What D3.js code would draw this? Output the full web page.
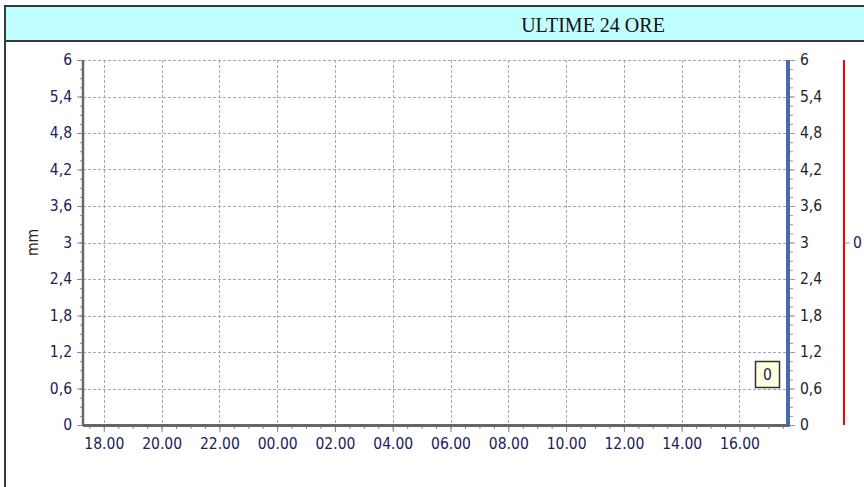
<!DOCTYPE html>
<head>
<meta charset="utf-8">
<title>Ultime 24 ore</title>
<style>
body { margin: 0; background: #fff; }
svg { display: block; }
.lbl { font-family: "DejaVu Sans Condensed", "DejaVu Sans", sans-serif; font-size: 15.5px; }
.grid line { stroke: #a8a8a8; stroke-dasharray: 3,2; shape-rendering: crispEdges; }
</style>
<script src="https://cdn.jsdelivr.net/npm/d3@7"></script>
</head>
<body>
<script>
// hours counted from midnight of the first day (24+ = next day)
var title = "ULTIME 24 ORE";
var yLabel = "mm";
var yTicks = [0, 0.6, 1.2, 1.8, 2.4, 3, 3.6, 4.2, 4.8, 5.4, 6];
var yTickLabels = ["0", "0,6", "1,2", "1,8", "2,4", "3", "3,6", "4,2", "4,8", "5,4", "6"];
var xTicks = [18, 20, 22, 24, 26, 28, 30, 32, 34, 36, 38, 40];
var xTickLabels = ["18.00", "20.00", "22.00", "00.00", "02.00", "04.00", "06.00", "08.00", "10.00", "12.00", "14.00", "16.00"];
var timeRange = [17.28, 41.68];
var hours = [18, 19, 20, 21, 22, 23, 24, 25, 26, 27, 28, 29, 30, 31, 32, 33, 34, 35, 36, 37, 38, 39, 40, 41];
var rain = [0, 0, 0, 0, 0, 0, 0, 0, 0, 0, 0, 0, 0, 0, 0, 0, 0, 0, 0, 0, 0, 0, 0, 0];
var lastValue = "0";
var redTicks = [0];
var redTickLabels = ["0"];

(function() {
var W = 864, H = 487;
var svg = d3.select("body").append("svg").attr("width", W).attr("height", H);

// frame + title band
svg.append("rect").attr("x", 5).attr("y", 6).attr("width", W + 10).attr("height", 35)
    .attr("fill", "#c0ffff").attr("stroke", "#3a3a3a").attr("stroke-width", 2);
svg.append("line").attr("x1", 5).attr("x2", 5).attr("y1", 6).attr("y2", H)
    .attr("stroke", "#3a3a3a").attr("stroke-width", 2);
svg.append("text").attr("x", 593).attr("y", 32).attr("text-anchor", "middle")
    .style("font-family", "'Liberation Serif', 'Times New Roman', serif").style("font-size", "20px")
    .attr("fill", "#111").text(title);

var pl = 83, pr = 788, pt = 60, pb = 425;
var x = d3.scaleLinear().domain(timeRange).range([pl, pr]);
var y = d3.scaleLinear().domain([0, 6]).range([pb, pt]);

// grid
var grid = svg.append("g").attr("class", "grid");
grid.selectAll(".h").data(yTicks.slice(1)).enter().append("line")
    .attr("x1", pl).attr("x2", pr).attr("y1", function(d) { return Math.round(y(d)) + 0.5; })
    .attr("y2", function(d) { return Math.round(y(d)) + 0.5; });
grid.selectAll(".v").data(xTicks).enter().append("line")
    .attr("y1", pt).attr("y2", pb).attr("x1", function(d) { return Math.round(x(d)) + 0.5; })
    .attr("x2", function(d) { return Math.round(x(d)) + 0.5; });

// series (all zero)
svg.append("path").datum(hours.map(function(h, i) { return [h, rain[i]]; }))
    .attr("fill", "none").attr("stroke", "#4a69a8").attr("stroke-width", 2)
    .attr("d", d3.line().x(function(d) { return x(d[0]); }).y(function(d) { return y(d[1]); }));

// minor ticks
var yMinor = d3.range(0, 6.0001, 0.15);
var xMinor = d3.range(17.5, 41.6, 0.5);

// left axis
var la = svg.append("g").attr("transform", "translate(" + pl + ",0)");
la.call(d3.axisLeft(y).tickValues(yMinor).tickSize(3).tickFormat(""));
la.selectAll("line").attr("stroke", "#888");
la.select(".domain").remove();
var lmaj = svg.append("g").attr("transform", "translate(" + pl + ",0)")
    .call(d3.axisLeft(y).tickValues(yTicks).tickSize(6).tickPadding(5)
        .tickFormat(function(d, i) { return yTickLabels[i]; }));
lmaj.select(".domain").remove();
lmaj.selectAll("line").attr("stroke", "#888");
lmaj.selectAll("text").attr("class", "lbl").attr("fill", "#20205a");
svg.append("line").attr("x1", pl).attr("x2", pl).attr("y1", pt).attr("y2", pb + 1)
    .attr("stroke", "#6a6a6a").attr("stroke-width", 2.5);

// bottom axis
var bmin = svg.append("g").attr("transform", "translate(0," + pb + ")")
    .call(d3.axisBottom(x).tickValues(xMinor).tickSize(4).tickFormat(""));
bmin.select(".domain").remove();
bmin.selectAll("line").attr("stroke", "#888");
var bmaj = svg.append("g").attr("transform", "translate(0," + pb + ")")
    .call(d3.axisBottom(x).tickValues(xTicks).tickSize(7).tickPadding(6)
        .tickFormat(function(d, i) { return xTickLabels[i]; }));
bmaj.select(".domain").remove();
bmaj.selectAll("line").attr("stroke", "#888");
bmaj.selectAll("text").attr("class", "lbl").attr("fill", "#20205a");
svg.append("line").attr("x1", pl).attr("x2", pr).attr("y1", pb + 0.5).attr("y2", pb + 0.5)
    .attr("stroke", "#666").attr("stroke-width", 3);

// right blue axis
var ra = svg.append("g").attr("transform", "translate(" + (pr + 2) + ",0)");
ra.call(d3.axisRight(y).tickValues(yMinor).tickSize(3).tickFormat(""));
ra.select(".domain").remove();
ra.selectAll("line").attr("stroke", "#999");
var rmaj = svg.append("g").attr("transform", "translate(" + (pr + 2) + ",0)")
    .call(d3.axisRight(y).tickValues(yTicks).tickSize(5).tickPadding(5)
        .tickFormat(function(d, i) { return yTickLabels[i]; }));
rmaj.select(".domain").remove();
rmaj.selectAll("line").attr("stroke", "#999");
rmaj.selectAll("text").attr("class", "lbl").attr("fill", "#1e1e1e");
svg.append("line").attr("x1", pr).attr("x2", pr).attr("y1", pt).attr("y2", pb + 2)
    .attr("stroke", "#4a69a8").attr("stroke-width", 4);

// right red axis
var yr = d3.scaleLinear().domain([-1, 1]).range([pb, pt]);
var red = svg.append("g").attr("transform", "translate(845,0)")
    .call(d3.axisRight(yr).tickValues(redTicks).tickSize(5).tickPadding(3)
        .tickFormat(function(d, i) { return redTickLabels[i]; }));
red.select(".domain").remove();
red.selectAll("line").attr("stroke", "#999");
red.selectAll("text").attr("class", "lbl").attr("fill", "#20205a");
svg.append("line").attr("x1", 844).attr("x2", 844).attr("y1", pt).attr("y2", pb)
    .attr("stroke", "#ff0000").attr("stroke-width", 2);

// y label
svg.append("text").attr("transform", "translate(38," + y(3) + ") rotate(-90)")
    .attr("text-anchor", "middle").attr("class", "lbl").attr("fill", "#3a1a1a").text(yLabel);

// last value box
var bx = 755, by = 361;
svg.append("rect").attr("x", bx + 0.5).attr("y", by + 0.5).attr("width", 24).attr("height", 26)
    .attr("fill", "#ffffe0").attr("stroke", "#333").attr("stroke-width", 1.5);
svg.append("text").attr("x", bx + 12.5).attr("y", by + 19).attr("text-anchor", "middle")
    .attr("class", "lbl").attr("fill", "#20205a").text(lastValue);
})();
</script>
</body>
